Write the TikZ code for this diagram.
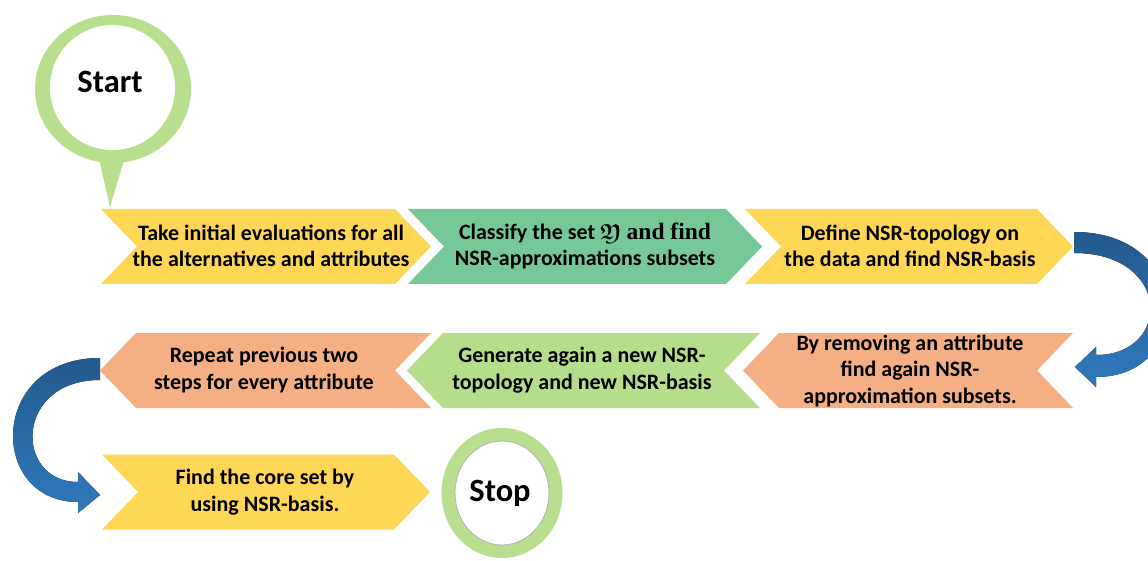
\documentclass[tikz,border=0pt]{standalone}
\usepackage{amssymb}
\usepackage{fontspec}
\setsansfont{Carlito}
\newfontfamily\seriffont{Liberation Serif}
\usepackage{tikz}
\usetikzlibrary{calc}
\tikzset{>=latex}
\usepackage{xcolor}
\definecolor{myyellow}{HTML}{FFD757}
\definecolor{mygreen}{HTML}{77C898}
\definecolor{myorange}{HTML}{F4B084}
\definecolor{mylime}{HTML}{B5DD8C}
\definecolor{myring}{HTML}{B7DF8E}
\definecolor{darkblue}{HTML}{245A8D}
\definecolor{lightblue}{HTML}{3079BC}
\tikzstyle{txt}=[font=\sffamily\bfseries\fontsize{22}{26.5}\selectfont,align=center,inner sep=0pt]
\tikzstyle{big}=[font=\sffamily\bfseries\fontsize{32.5}{38}\selectfont,inner sep=0pt]
\tikzstyle{uturn}=[top color=darkblue,bottom color=lightblue]
\def\half{37.5}
\def\tip{36}
\def\chevR#1#2#3#4{\fill[#4] (#1,#3-\half) -- (#2-\tip,#3-\half) -- (#2,#3)
  -- (#2-\tip,#3+\half) -- (#1,#3+\half) -- (#1+\tip,#3) -- cycle;}
\def\chevL#1#2#3#4{\fill[#4] (#1+\tip,#3-\half) -- (#2,#3-\half) -- (#2-\tip,#3)
  -- (#2,#3+\half) -- (#1+\tip,#3+\half) -- (#1,#3) -- cycle;}

\begin{document}
\begin{tikzpicture}[x=1pt,y=-1pt]
      \useasboundingbox[fill=white] (0,0) rectangle (1148,561);

      % ROW 1
      \chevR{101}{431}{246.5}{myyellow}
      \chevR{408}{762}{246.5}{mygreen}
      \chevR{745}{1073}{246.5}{myyellow}
      \node[txt] (take) at (271,246) {Take initial evaluations for all\\the alternatives and attributes};
      \node[txt] (classify) at (585,246) {Classify the set {\boldmath$\mathfrak{Y}$} {\seriffont\fontsize{23.5}{26.5}\selectfont and find}\\NSR-approximations subsets};
      \node[txt] (define) at (910,246) {Define NSR-topology on\\the data and find NSR-basis};

      % ROW 2
      \chevL{743}{1073}{370.5}{myorange}
      \chevL{407}{760}{370.5}{mylime}
      \chevL{100}{431}{370.5}{myorange}
      \node[txt] (remove) at (910,371) {By removing an attribute\\find again NSR-\\approximation subsets.};
      \node[txt] (generate) at (582,370) {Generate again a new NSR-\\topology and new NSR-basis};
      \node[txt] (repeat) at (264,370) {Repeat previous two\\steps for every attribute};

      % ROW 3
      \chevR{102}{430}{492}{myyellow}
      \node[txt] (core) at (265,492) {Find the core set by\\using NSR-basis.};

      % START AND STOP
      \fill[myring] (113,89) ellipse [x radius=78pt, y radius=74pt];
      \fill[myring] (97,150) -- (127,150) -- (110,207) -- cycle;
      \fill[white] (112.5,87.5) circle (62.5pt);
      \node[big] (start) at (110,82) {Start};
      \fill[myring] (502,493) ellipse [x radius=60.5pt, y radius=65pt];
      \filldraw[white,draw=gray!60,line width=0.8pt] (502,493) ellipse [x radius=47pt, y radius=52pt];
      \node[big] (stop) at (500,493) {Stop};

      % BENDS
      \coordinate (r1) at (1074,232);
      \coordinate (r2) at (1074,253);
      \coordinate (r3) at (1096,355);
      \coordinate (r4) at (1096,377);
      \coordinate (rt) at (1075,367);
      \fill[uturn] (r1) .. controls +(121,0) and +(99,0) .. (r4) -- ++(0,10)
        -- (rt) -- ($(r3)+(0,-8)$) -- (r3) .. controls +(76,0) and +(98,0) .. (r2) -- cycle;
      \coordinate (l1) at (100,358);
      \coordinate (l2) at (100,380);
      \coordinate (l3) at (78,482);
      \coordinate (l4) at (78,502);
      \coordinate (lt) at (100,495);
      \fill[uturn] (l1) .. controls +(-112,0) and +(-90,0) .. (l4) -- ++(0,11)
        -- (lt) -- ($(l3)+(0,-10)$) -- (l3) .. controls +(-64,0) and +(-86,0) .. (l2) -- cycle;

    \end{tikzpicture}
\end{document}
